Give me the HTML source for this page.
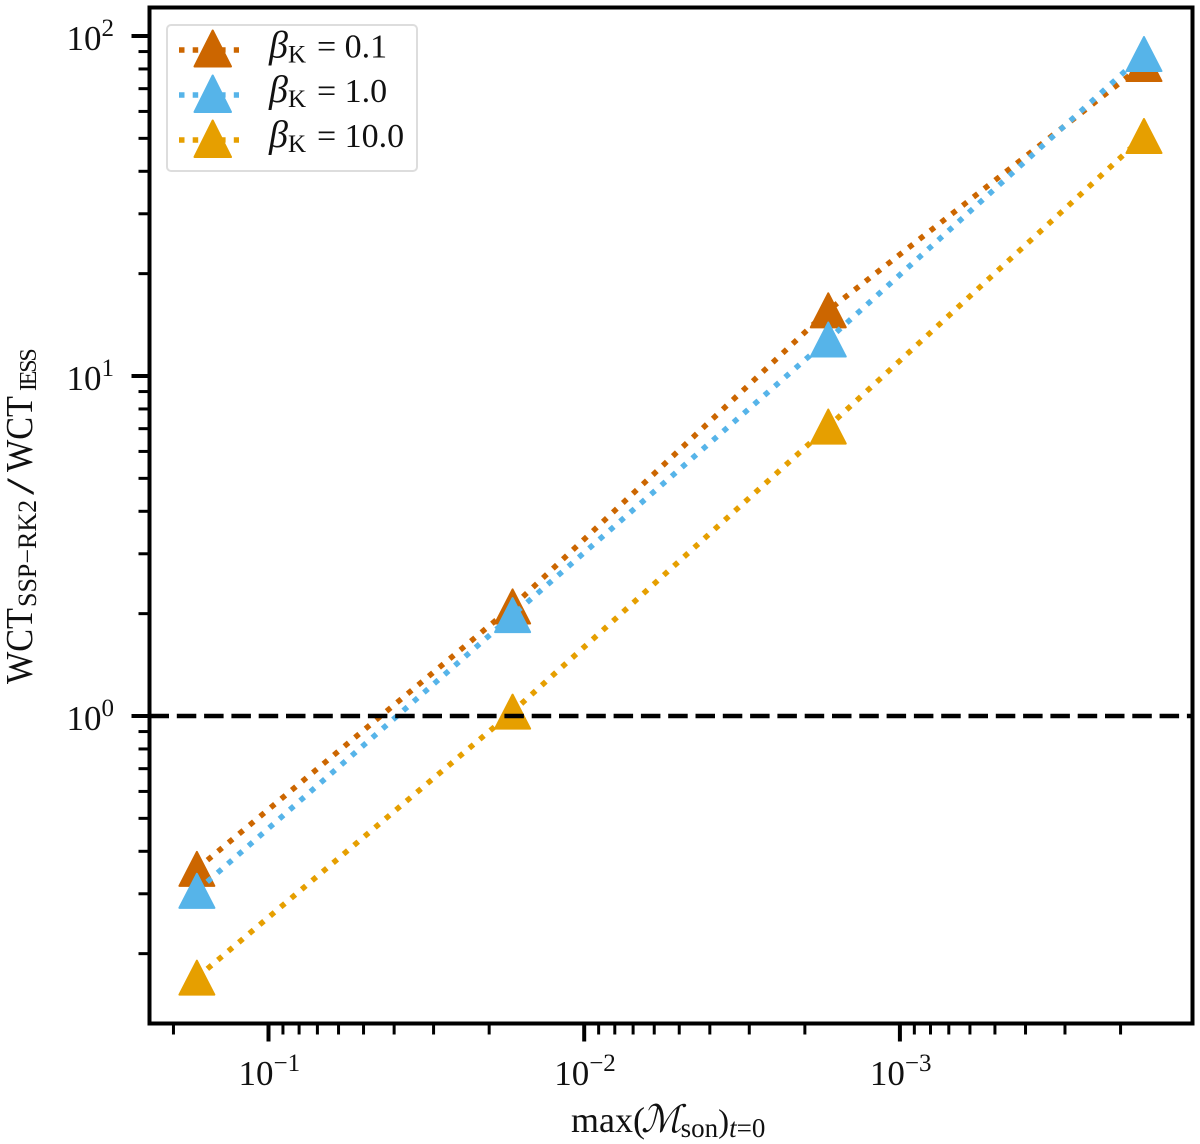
<!DOCTYPE html>
<html>
<head>
<meta charset="utf-8">
<title>WCT ratio chart</title>
<style>
html,body{margin:0;padding:0;background:#fff;}
svg{display:block;}
text{font-family:"Liberation Serif","DejaVu Serif",serif;fill:#111;}
</style>
</head>
<body>
<svg id="chart" xmlns="http://www.w3.org/2000/svg" width="1200" height="1144" viewBox="0 0 1200 1144">
  <rect x="0" y="0" width="1200" height="1144" fill="#fff"/>
  <g id="ticks"></g>
  <g id="series"></g>
  <g id="refline"></g>
  <rect x="149.5" y="7.5" width="1043" height="1016" fill="none" stroke="#000" stroke-width="4"/>

  <g>
    <rect x="167" y="25" width="250" height="146" rx="4" fill="#fff" fill-opacity="0.9" stroke="#ddd" stroke-width="2"/>
    <g>
      <line x1="179" y1="50" x2="239" y2="50" stroke="#CC6600" stroke-width="5.5" stroke-dasharray="5.5 8.2"/>
      <polygon points="212.7,30.5 231,66.5 194.5,66.5" fill="#CC6600" stroke="#CC6600" stroke-width="2" stroke-linejoin="round"/>
      <text x="269" y="57.5" font-size="34"><tspan font-style="italic" font-size="38">β</tspan><tspan font-size="25" dy="5">K</tspan><tspan dy="-5" dx="11">= 0.1</tspan></text>
    </g>
    <g>
      <line x1="179" y1="95" x2="239" y2="95" stroke="#56B4E9" stroke-width="5.5" stroke-dasharray="5.5 8.2"/>
      <polygon points="212.7,75.5 231,112 194.5,112" fill="#56B4E9" stroke="#56B4E9" stroke-width="2" stroke-linejoin="round"/>
      <text x="269" y="102" font-size="34"><tspan font-style="italic" font-size="38">β</tspan><tspan font-size="25" dy="5">K</tspan><tspan dy="-5" dx="11">= 1.0</tspan></text>
    </g>
    <g>
      <line x1="179" y1="140" x2="239" y2="140" stroke="#E69F00" stroke-width="5.5" stroke-dasharray="5.5 8.2"/>
      <polygon points="212.7,120.5 231,157 194.5,157" fill="#E69F00" stroke="#E69F00" stroke-width="2" stroke-linejoin="round"/>
      <text x="269" y="147" font-size="34"><tspan font-style="italic" font-size="38">β</tspan><tspan font-size="25" dy="5">K</tspan><tspan dy="-5" dx="11">= 10.0</tspan></text>
    </g>
  </g>

  <text x="571" y="1132" font-size="36">max(<tspan font-style="italic" font-size="38" dx="-4">ℳ</tspan><tspan font-size="27" dy="5" dx="-1">son</tspan><tspan dy="-5" font-size="33">)</tspan><tspan font-size="27" dy="5" font-style="italic">t</tspan><tspan font-size="27">=0</tspan></text>

  <g>
    <text transform="translate(32,684) rotate(-90) scale(0.9,1)" font-size="38">WCT</text>
    <text transform="translate(36,607) rotate(-90)" font-size="26">SSP−RK2</text>
    <text transform="translate(33,495) rotate(-90) scale(1.8,1.15)" font-size="34">/</text>
    <text transform="translate(32,472) rotate(-90) scale(0.9,1)" font-size="38">WCT</text>
    <text transform="translate(36,391) rotate(-90)" font-size="24" letter-spacing="-2.2">IESS</text>
  </g>
</svg>
<script>
var xValues = [0.1686, 0.01686, 0.001686, 0.0001686];
var seriesLow = [0.355, 2.1, 15.6, 82.7];
var seriesMid = [0.306, 1.98, 12.8, 88.5];
var seriesHigh = [0.17, 1.03, 7.1, 50.8];
var referenceValue = [1];
var xMajorExponents = [-1, -2, -3];
var yMajorExponents = [0, 1, 2];
var xTickLabels = ['10', '10', '10'];
var xTickPowers = ['−1', '−2', '−3'];
var yTickLabels = ['10', '10', '10'];
var yTickPowers = ['0', '1', '2'];

var NS = 'http://www.w3.org/2000/svg';
var FRAME = {left: 149.5, right: 1192.5, top: 7.5, bottom: 1023.5};

function xScale(v) { return 268.5 + (-1 - Math.log10(v)) * 315.7; }
function yScale(v) { return 716 - Math.log10(v) * 340; }

function svgEl(tag, attrs) {
  var el = document.createElementNS(NS, tag);
  for (var k in attrs) { el.setAttribute(k, attrs[k]); }
  return el;
}

var tickGroup = document.getElementById('ticks');
var seriesGroup = document.getElementById('series');
var refGroup = document.getElementById('refline');

function xTick(v, major) {
  var x = xScale(v);
  if (x < FRAME.left || x > FRAME.right) { return; }
  var t = svgEl('line', {x1: x, x2: x, y1: FRAME.bottom, y2: FRAME.bottom + (major ? 18 : 11), stroke: '#000', 'stroke-width': major ? 4 : 3});
  
  
  tickGroup.appendChild(t);
}

function yTick(v, major) {
  var y = yScale(v);
  if (y < FRAME.top || y > FRAME.bottom) { return; }
  var t = svgEl('line', {x1: FRAME.left, x2: FRAME.left - (major ? 18 : 11), y1: y, y2: y, stroke: '#000', 'stroke-width': major ? 4 : 3});
  
  
  tickGroup.appendChild(t);
}

for (var e = -5; e <= 2; e++) {
  for (var m = 2; m <= 9; m++) {
    xTick(m * Math.pow(10, e), false);
    yTick(m * Math.pow(10, e), false);
  }
}

xMajorExponents.forEach(function (exp, i) {
  var v = Math.pow(10, exp);
  xTick(v, true);
  var label = svgEl('text', {x: xScale(v) - 30, y: 1085, 'font-size': 35});
  
  
  label.textContent = xTickLabels[i];
  var sup = svgEl('tspan', {'font-size': 25, dy: -14});
  sup.textContent = xTickPowers[i];
  label.appendChild(sup);
  tickGroup.appendChild(label);
});

yMajorExponents.forEach(function (exp, i) {
  var v = Math.pow(10, exp);
  yTick(v, true);
  var label = svgEl('text', {x: 66.5, y: yScale(v) + 14, 'font-size': 35});
  
  
  label.textContent = yTickLabels[i];
  var sup = svgEl('tspan', {'font-size': 25, dy: -14});
  sup.textContent = yTickPowers[i];
  label.appendChild(sup);
  tickGroup.appendChild(label);
});

function drawSeries(values, color, key) {
  var pts = values.map(function (v, i) { return xScale(xValues[i]) + ',' + yScale(v); }).join(' ');
  var line = svgEl('polyline', {points: pts, fill: 'none', stroke: color, 'stroke-width': 5.5, 'stroke-dasharray': '5.5 8.2'});
  
  
  seriesGroup.appendChild(line);
  values.forEach(function (v, i) {
    var cx = xScale(xValues[i]);
    var cy = yScale(v);
    var tri = svgEl('polygon', {
      points: cx + ',' + (cy - 17) + ' ' + (cx + 17.5) + ',' + (cy + 17) + ' ' + (cx - 17.5) + ',' + (cy + 17),
      fill: color, stroke: color, 'stroke-width': 2, 'stroke-linejoin': 'round'
    });
    
    
    seriesGroup.appendChild(tri);
  });
}

drawSeries(seriesLow, '#CC6600', 'beta-0.1');
drawSeries(seriesMid, '#56B4E9', 'beta-1.0');
drawSeries(seriesHigh, '#E69F00', 'beta-10.0');

var ref = svgEl('line', {x1: FRAME.left, x2: FRAME.right, y1: yScale(referenceValue[0]), y2: yScale(referenceValue[0]), stroke: '#000', 'stroke-width': 4.5, 'stroke-dasharray': '19.5 7.8'});


refGroup.appendChild(ref);
</script>
</body>
</html>
